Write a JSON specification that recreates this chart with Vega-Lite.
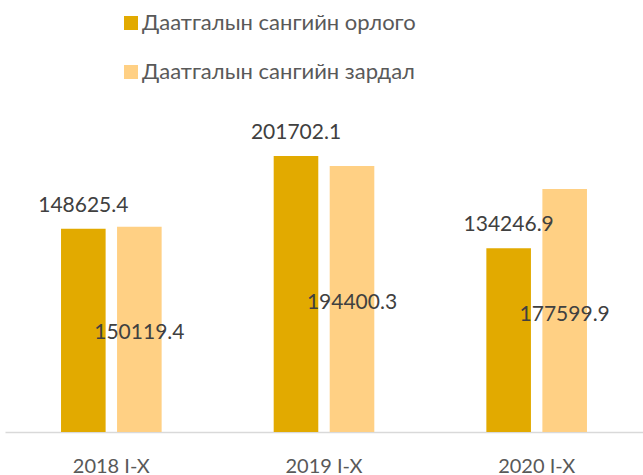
{
  "$schema": "https://vega.github.io/schema/vega-lite/v6.json",
  "width": 638,
  "height": 342,
  "autosize": {"type": "none"},
  "padding": {"left": 5, "top": 90, "right": 0, "bottom": 43},
  "background": "#ffffff",
  "config": {"view": {"stroke": null}, "font": "Lato"},
  "data": {
    "values": [
      {"period": "2018 I-X", "series": "Даатгалын сангийн орлого", "value": 148625.4},
      {"period": "2018 I-X", "series": "Даатгалын сангийн зардал", "value": 150119.4},
      {"period": "2019 I-X", "series": "Даатгалын сангийн орлого", "value": 201702.1},
      {"period": "2019 I-X", "series": "Даатгалын сангийн зардал", "value": 194400.3},
      {"period": "2020 I-X", "series": "Даатгалын сангийн орлого", "value": 134246.9},
      {"period": "2020 I-X", "series": "Даатгалын сангийн зардал", "value": 177599.9}
    ]
  },
  "encoding": {
    "x": {
      "field": "period", "type": "nominal", "sort": null,
      "scale": {"paddingInner": 0, "paddingOuter": 0},
      "axis": {"title": null, "labelAngle": 0, "ticks": false, "domainColor": "#d9d9d9", "domainWidth": 1.5,
               "labelFontSize": 20, "labelColor": "#595959", "labelPadding": 24, "labelFont": "Lato"}
    },
    "xOffset": {
      "field": "series", "type": "nominal",
      "sort": ["Даатгалын сангийн орлого", "Даатгалын сангийн зардал"],
      "scale": {"paddingInner": 0.204, "paddingOuter": 1.06}
    }
  },
  "layer": [
    {
      "mark": {"type": "bar"},
      "encoding": {
        "y": {"field": "value", "type": "quantitative", "scale": {"domain": [0, 250000]}, "axis": null},
        "color": {
          "field": "series", "type": "nominal",
          "sort": ["Даатгалын сангийн орлого", "Даатгалын сангийн зардал"],
          "scale": {"domain": ["Даатгалын сангийн орлого", "Даатгалын сангийн зардал"], "range": ["#E2AA00", "#FFD084"]},
          "legend": {
            "title": null, "orient": "none", "legendX": 115, "legendY": -78, "direction": "vertical",
            "symbolType": "square", "symbolSize": 196, "symbolStrokeWidth": 0, "symbolOpacity": 1,
            "labelFontSize": 22, "labelColor": "#595959", "labelFont": "Lato", "rowPadding": 27, "labelOffset": 0,
            "labelLimit": 400
          }
        }
      }
    },
    {
      "transform": [{"filter": "datum.series === 'Даатгалын сангийн орлого'"}],
      "mark": {"type": "text", "baseline": "alphabetic", "dy": -17, "fontSize": 21, "color": "#404040", "font": "Lato"},
      "encoding": {
        "y": {"field": "value", "type": "quantitative", "scale": {"domain": [0, 250000]}},
        "text": {"field": "value", "type": "quantitative", "format": ".1f"}
      }
    },
    {
      "transform": [
        {"filter": "datum.series === 'Даатгалын сангийн зардал'"},
        {"calculate": "datum.value / 2", "as": "mid"}
      ],
      "mark": {"type": "text", "baseline": "middle", "dy": 4, "fontSize": 21, "color": "#404040", "font": "Lato"},
      "encoding": {
        "y": {"field": "mid", "type": "quantitative", "scale": {"domain": [0, 250000]}},
        "text": {"field": "value", "type": "quantitative", "format": ".1f"}
      }
    }
  ]
}
